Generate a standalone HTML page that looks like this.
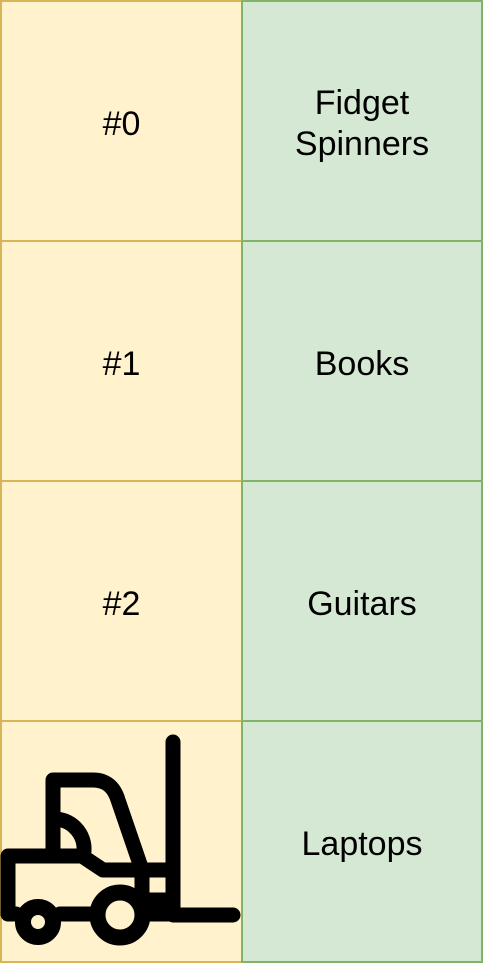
<!DOCTYPE html>
<html><head><meta charset="utf-8"><style>
html,body{margin:0;padding:0;width:483px;height:963px;overflow:hidden;background:#fff}
.c{position:absolute;box-sizing:border-box;display:flex;align-items:center;justify-content:center;text-align:center;font-family:"Liberation Sans",Arial,sans-serif;font-size:34px;line-height:41px;color:#000;padding-top:6px}
.l{background:#fff2cc;border:2px solid #d6b656;left:0;width:243px}
.r{background:#d5e8d4;border:2px solid #82b366;left:241px;width:242px}
</style></head><body>
<div class="c l" style="top:0;height:242px">#0</div>
<div class="c r" style="top:0;height:242px">Fidget<br>Spinners</div>
<div class="c l" style="top:240px;height:242px">#1</div>
<div class="c r" style="top:240px;height:242px">Books</div>
<div class="c l" style="top:480px;height:242px">#2</div>
<div class="c r" style="top:480px;height:242px">Guitars</div>
<div class="c l" style="top:720px;height:243px"></div>
<div class="c r" style="top:720px;height:243px">Laptops</div>
<svg style="position:absolute;left:0;top:0" width="483" height="963">
<g fill="none" stroke="#000" stroke-width="15" stroke-linecap="round" stroke-linejoin="round">
<path d="M173,742 V915 H233"/>
<path d="M53,853 V780 H93 Q112,780 118,800 L142,870 V900"/>
<path d="M53,819 A30,30 0 0 1 84,851"/>
<path d="M8,914 V856 H82 L103,870 H173"/>
<path d="M142,900 H173"/>
<path d="M8,914 H16 M60,914 H92 M149,914 H173"/>
<circle cx="38" cy="922" r="15" stroke-width="16"/>
<circle cx="120" cy="915" r="22.5" stroke-width="16"/>
</g></svg>
</body></html>
